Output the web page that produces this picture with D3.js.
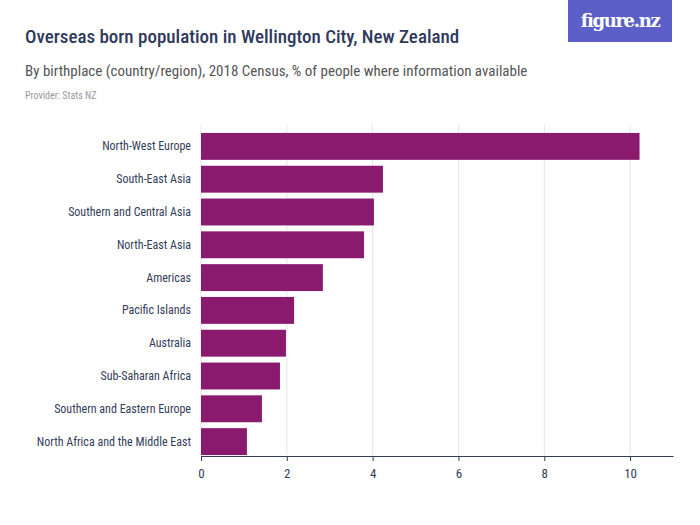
<!DOCTYPE html><html><head><meta charset="utf-8">
<script src="https://cdn.jsdelivr.net/npm/d3@7"></script>
<style>body{margin:0;background:#fff}</style></head><body>
<script>
const categories=["North-West Europe","South-East Asia","Southern and Central Asia","North-East Asia","Americas","Pacific Islands","Australia","Sub-Saharan Africa","Southern and Eastern Europe","North Africa and the Middle East"];
const values=[10.22,4.24,4.03,3.80,2.84,2.17,1.98,1.84,1.42,1.07];
const ticks=[0,2,4,6,8,10];
const W=700,H=525,font="Roboto Condensed, Liberation Sans Narrow, Roboto, sans-serif";
const svg=d3.select("body").append("svg").attr("width",W).attr("height",H).style("font-family",font);
const x=d3.scaleLinear().domain([0,11]).range([201,673]);
const y=d3.scaleBand().domain(categories).range([130,458]).paddingInner(0.18).paddingOuter(0.09);
svg.append("text").attr("x",25).attr("y",43).attr("font-size",19).attr("font-weight",500).attr("fill","#2f3a5c").text("Overseas born population in Wellington City, New Zealand");
svg.append("text").attr("x",25).attr("y",76).attr("font-size",15).attr("fill","#555").text("By birthplace (country/region), 2018 Census, % of people where information available");
svg.append("text").attr("x",25).attr("y",99).attr("font-size",10).attr("fill","#999").text("Provider: Stats NZ");
svg.append("rect").attr("x",568).attr("y",0).attr("width",104).attr("height",42).attr("fill","#5b5fc7");
svg.append("text").attr("x",620).attr("y",27).attr("text-anchor","middle").attr("font-size",18).attr("font-weight",700).attr("fill","#fff").attr("font-family","DejaVu Serif, serif").attr("textLength",80).text("figure.nz");
svg.selectAll(".g").data(ticks).enter().append("line").attr("x1",d=>x(d)).attr("x2",d=>x(d)).attr("y1",125).attr("y2",455).attr("stroke","#e3e3e3");
svg.selectAll(".b").data(values).enter().append("rect").attr("x",x(0)).attr("y",(d,i)=>y(categories[i])).attr("width",d=>x(d)-x(0)).attr("height",y.bandwidth()).attr("fill","#8a1a6e");
svg.selectAll(".l").data(categories).enter().append("text").attr("x",191).attr("y",d=>y(d)+y.bandwidth()/2+4).attr("text-anchor","end").attr("font-size",12).attr("fill","#333d5a").text(d=>d);
const ax=svg.append("g").attr("transform","translate(0,456)").call(d3.axisBottom(x).tickValues(ticks).tickSize(5).tickSizeOuter(0));
ax.select(".domain").attr("stroke","#333d5a");
ax.selectAll("line").attr("stroke","#333d5a");
ax.selectAll("text").attr("font-size",13).attr("fill","#333d5a").attr("font-family",font).attr("dy","1.1em");
</script></body></html>
